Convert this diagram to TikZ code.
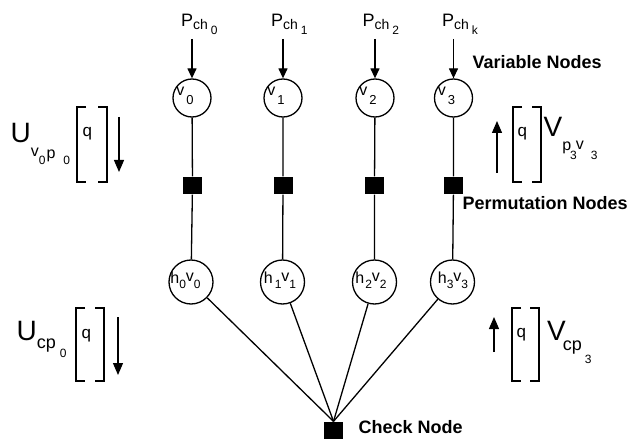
\documentclass[tikz,border=0pt]{standalone}
\usepackage{fontspec}
\setmainfont{Liberation Sans}
\usetikzlibrary{arrows.meta}
\newcommand{\fs}[1]{\fontsize{#1}{#1}\selectfont}
\newcommand{\dn}[3]{\raisebox{-#1pt}{\fs{#2}#3}}
\newcommand{\inside}[3]{\makebox[0pt][c]{\hspace*{#1}\raisebox{#2}[0pt][0pt]{#3}}}
\newcommand{\brackets}[4]{%
  \draw (#1+9,#2) -- (#1,#2) -- (#1,#4) -- (#1+9,#4);
  \draw (#3-9,#2) -- (#3,#2) -- (#3,#4) -- (#3-9,#4);}
\begin{document}
\begin{tikzpicture}[x=1pt,y=-1pt,line width=1.3pt,
  vnode/.style={circle,draw,minimum size=38pt,inner sep=0pt,font=\fs{16}},
  hnode/.style={circle,draw,minimum size=44pt,inner sep=0pt,font=\fs{16}},
  sqnode/.style={rectangle,fill=black,minimum width=19pt,minimum height=17pt,inner sep=0pt},
  boldlab/.style={font=\fs{18}\bfseries,inner sep=0pt,anchor=base west},
  biglab/.style={font=\fs{28},inner sep=0pt,anchor=base west},
  plab/.style={font=\fs{18},inner sep=0pt,anchor=base west},
  qlab/.style={font=\fs{17},inner sep=0pt,anchor=base west},
  arr/.style={-{Triangle[length=10pt,width=9pt]}},
  bigarr/.style={-{Triangle[length=12pt,width=10pt]}}]
\useasboundingbox (0,0) rectangle (627,441);

% channel inputs
\node[plab] (p0) at (180.5,27) {P\dn{3}{14}{ch}\hspace{3pt}\dn{8}{12}{0}};
\node[plab] (p1) at (270.5,27) {P\dn{3}{14}{ch}\hspace{3pt}\dn{8}{12}{1}};
\node[plab] (p2) at (362,27) {P\dn{3}{14}{ch}\hspace{3pt}\dn{8}{12}{2}};
\node[plab] (p3) at (441.5,27) {P\dn{3}{14}{ch}\hspace{3pt}\dn{8}{12}{k}};
\coordinate (a0) at (192,39);
\coordinate (a1) at (283,39);
\coordinate (a2) at (375,39);
\coordinate (a3) at (453.5,39);

% variable nodes
\node[vnode] (v0) at (192,98) {\inside{-14pt}{2pt}{v\hspace{2pt}\dn{9}{13}{0}}};
\node[vnode] (v1) at (283,98) {\inside{-14pt}{2pt}{v\hspace{2pt}\dn{9}{13}{1}}};
\node[vnode] (v2) at (375,98) {\inside{-14pt}{2pt}{v\hspace{2pt}\dn{9}{13}{2}}};
\node[vnode] (v3) at (453.5,98) {\inside{-14pt}{2pt}{v\hspace{2pt}\dn{9}{13}{3}}};

% permutation nodes
\node[sqnode] (s0) at (192.5,185.5) {};
\node[sqnode] (s1) at (283,185.5) {};
\node[sqnode] (s2) at (374.5,185.5) {};
\node[sqnode] (s3) at (453.5,185.5) {};

% h nodes
\node[hnode] (h0) at (191,282) {\inside{-11pt}{-1pt}{h\dn{5}{12}{0}\raisebox{2pt}{\fs{16}v}\dn{5}{12}{0}}};
\node[hnode] (h1) at (282.5,282) {\inside{-5pt}{-1pt}{h\hspace{2pt}\dn{5}{12}{1}\raisebox{2pt}{\fs{16}v}\dn{5}{12}{1}}};
\node[hnode] (h2) at (374.5,282) {\inside{-7pt}{-1pt}{h\hspace{1pt}\dn{5}{12}{2}\raisebox{2pt}{\fs{16}v}\dn{5}{12}{2}}};
\node[hnode] (h3) at (452.5,282) {\inside{1pt}{-1pt}{h\dn{5}{12}{3}\raisebox{2pt}{\fs{16}v}\dn{5}{12}{3}}};

% check node
\node[sqnode] (chk) at (333.5,430.5) {};

% labels
\node[boldlab] (lv) at (472,69) {Variable Nodes};
\node[boldlab] (lp) at (462,210) {Permutation Nodes};
\node[boldlab] (lc) at (358,433) {Check Node};

% connectors
\foreach \i in {0,1,2,3}{
  \draw[arr] (a\i) -- (v\i);
  \draw (v\i) -- (s\i) -- (h\i);
  \draw (h\i) -- (chk.north);
}

% message labels and brackets
\node[biglab] (u1) at (10,143) {U\dn{14}{16}{v}\dn{22}{12}{0}\hspace{1pt}\dn{16}{16}{p}\hspace{8pt}\dn{22}{12}{0}};
\node[qlab] (q1) at (82,137) {q};
\brackets{77}{107}{107}{182}
\coordinate (d1s) at (119,117);
\coordinate (d1e) at (119,172);
\draw[bigarr] (d1s) -- (d1e);

\node[biglab] (v1lab) at (543,137) {V\dn{14}{16}{p}\hspace{-1pt}\dn{23}{12}{3}\hspace{-1pt}\dn{13}{16}{v}\hspace{7pt}\dn{23}{12}{3}};
\node[qlab] (q2) at (517,137) {q};
\brackets{513}{107}{541}{182}
\coordinate (d2s) at (497,173);
\coordinate (d2e) at (497,121);
\draw[bigarr] (d2s) -- (d2e);

\node[biglab] (u2) at (16,340) {U\dn{8}{18}{cp}\hspace{4pt}\dn{17}{12}{0}};
\node[qlab] (q3) at (81,338) {q};
\brackets{76}{308}{104}{381}
\coordinate (d3s) at (118,317);
\coordinate (d3e) at (118,375);
\draw[bigarr] (d3s) -- (d3e);

\node[biglab] (v2lab) at (546.5,340) {V\hspace{-3pt}\dn{10}{18}{cp}\hspace{3pt}\dn{23}{12}{3}};
\node[qlab] (q4) at (516,337) {q};
\brackets{512}{308}{539}{381}
\coordinate (d4s) at (494,352);
\coordinate (d4e) at (494,317);
\draw[bigarr] (d4s) -- (d4e);
\end{tikzpicture}
\end{document}
